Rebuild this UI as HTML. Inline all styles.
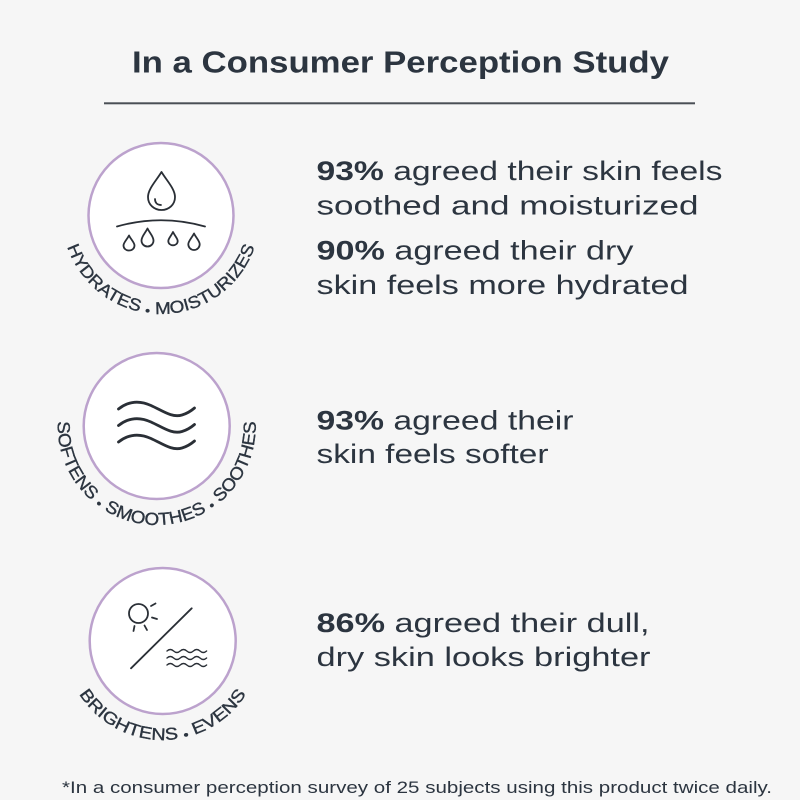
<!DOCTYPE html>
<html>
<head>
<meta charset="utf-8">
<style>
  html,body{margin:0;padding:0;background:#f6f6f6;}
  svg{display:block;}
  text{font-family:"Liberation Sans",sans-serif;fill:#2c3540;}
</style>
</head>
<body>
<svg width="800" height="800" viewBox="0 0 800 800" xmlns="http://www.w3.org/2000/svg">
  <rect width="800" height="800" fill="#f6f6f6"/>

  <!-- Title -->
  <text x="132" y="72.5" font-size="31" font-weight="bold" textLength="537" lengthAdjust="spacingAndGlyphs">In a Consumer Perception Study</text>
  <rect x="104" y="102.3" width="591" height="2" fill="#4a4f55"/>

  <defs>
    <path id="arc1" d="M67.97,181.14 A99,99 0 1 0 254.03,181.14"/>
    <path id="arc2" d="M63.67,392.14 A99,99 0 1 0 249.73,392.14"/>
    <path id="arc3" d="M69.67,607.14 A99,99 0 1 0 255.73,607.14"/>
  </defs>

  <!-- Circle 1 -->
  <circle cx="161" cy="215.5" r="72.5" fill="#ffffff" stroke="#bca2cd" stroke-width="2.5"/>
  <g fill="none" stroke="#2a2f36" stroke-width="1.8" stroke-linecap="round" stroke-linejoin="round">
    <path d="M161.5,172 C156,181 148,189 148,197 C148,204.5 154,210 161.5,210 C169,210 175,204.5 175,197 C175,189 167,181 161.5,172 Z"/>
    <path d="M155,199 C155,203 157.5,205 161,205"/>
    <path d="M117,226.5 Q161,214 205,226.5"/>
    <path d="M129,235.5 C127,239.5 123.5,242.5 123.5,245.5 C123.5,248.5 126,250.5 129,250.5 C132,250.5 134.5,248.5 134.5,245.5 C134.5,242.5 131,239.5 129,235.5 Z"/>
    <path d="M147.5,228.5 C145,233.5 141.5,236.5 141.5,240.5 C141.5,244 144.3,246.5 147.5,246.5 C150.7,246.5 153.5,244 153.5,240.5 C153.5,236.5 150,233.5 147.5,228.5 Z"/>
    <path d="M173,232 C171.2,235.8 168.3,238.5 168.3,241 C168.3,243.6 170.4,245.3 173,245.3 C175.6,245.3 177.7,243.6 177.7,241 C177.7,238.5 174.8,235.8 173,232 Z"/>
    <path d="M194,233.5 C191.8,238 188.3,241 188.3,244.3 C188.3,247.6 191,250 194,250 C197,250 199.7,247.6 199.7,244.3 C199.7,241 196.2,238 194,233.5 Z"/>
  </g>
  <text font-size="17" stroke="#2c3540" stroke-width="0.35"><textPath href="#arc1" startOffset="50%" text-anchor="middle" textLength="246" lengthAdjust="spacingAndGlyphs">HYDRATES <tspan font-size="8">●</tspan> MOISTURIZES</textPath></text>

  <!-- Circle 2 -->
  <circle cx="156.7" cy="426" r="73" fill="#ffffff" stroke="#bca2cd" stroke-width="2.5"/>
  <g fill="none" stroke="#2a2f36" stroke-width="2.8" stroke-linecap="round">
    <path d="M118.5,409 C128,401.5 139,400 151,405.5 C163,411 172,418 182,415 C187,413.5 191,411 194.5,408"/>
    <path d="M118.5,425.5 C128,418 139,416.5 151,422 C163,427.5 172,434.5 182,431.5 C187,430 191,427.5 194.5,424.5"/>
    <path d="M118.5,442 C128,434.5 139,433 151,438.5 C163,444 172,451 182,448 C187,446.5 191,444 194.5,441"/>
  </g>
  <text font-size="17.5" stroke="#2c3540" stroke-width="0.35"><textPath href="#arc2" startOffset="50%" text-anchor="middle" textLength="320" lengthAdjust="spacingAndGlyphs">SOFTENS <tspan font-size="8">●</tspan> SMOOTHES <tspan font-size="8">●</tspan> SOOTHES</textPath></text>

  <!-- Circle 3 -->
  <circle cx="162.7" cy="641" r="73" fill="#ffffff" stroke="#bca2cd" stroke-width="2.5"/>
  <g fill="none" stroke="#2a2f36" stroke-width="1.8" stroke-linecap="round">
    <circle cx="138.5" cy="613.5" r="9.5"/>
    <line x1="151" y1="606" x2="155.5" y2="603.5"/>
    <line x1="152" y1="617.5" x2="157" y2="619"/>
    <line x1="144.5" y1="625.5" x2="147" y2="630"/>
    <line x1="134.5" y1="626" x2="133.5" y2="631"/>
    <line x1="131" y1="668.3" x2="191.7" y2="608.3"/>
    <g stroke-width="1.4">
      <path d="M167,651 q3.3,-3 6.6,0 t6.6,0 t6.6,0 t6.6,0 t6.6,0 t6.6,0"/>
      <path d="M167,658 q3.3,-3 6.6,0 t6.6,0 t6.6,0 t6.6,0 t6.6,0 t6.6,0"/>
      <path d="M167,665 q3.3,-3 6.6,0 t6.6,0 t6.6,0 t6.6,0 t6.6,0 t6.6,0"/>
    </g>
  </g>
  <text font-size="17" stroke="#2c3540" stroke-width="0.35"><textPath href="#arc3" startOffset="50%" text-anchor="middle" textLength="199" lengthAdjust="spacingAndGlyphs">BRIGHTENS <tspan font-size="8">●</tspan> EVENS</textPath></text>

  <!-- Right text blocks -->
  <g font-size="27">
    <text x="316.5" y="180" textLength="406" lengthAdjust="spacingAndGlyphs"><tspan font-weight="bold">93%</tspan> agreed their skin feels</text>
    <text x="316.5" y="214.3" textLength="382" lengthAdjust="spacingAndGlyphs">soothed and moisturized</text>
    <text x="316.5" y="259.5" textLength="317" lengthAdjust="spacingAndGlyphs"><tspan font-weight="bold">90%</tspan> agreed their dry</text>
    <text x="316.5" y="294" textLength="372" lengthAdjust="spacingAndGlyphs">skin feels more hydrated</text>

    <text x="316.5" y="429.5" textLength="257" lengthAdjust="spacingAndGlyphs"><tspan font-weight="bold">93%</tspan> agreed their</text>
    <text x="316.5" y="463" textLength="232" lengthAdjust="spacingAndGlyphs">skin feels softer</text>

    <text x="316.5" y="632" textLength="333" lengthAdjust="spacingAndGlyphs"><tspan font-weight="bold">86%</tspan> agreed their dull,</text>
    <text x="316.5" y="666" textLength="334" lengthAdjust="spacingAndGlyphs">dry skin looks brighter</text>
  </g>

  <!-- Footer -->
  <text x="62" y="793" font-size="17" fill="#333a40" textLength="710" lengthAdjust="spacingAndGlyphs">*In a consumer perception survey of 25 subjects using this product twice daily.</text>
</svg>
</body>
</html>
